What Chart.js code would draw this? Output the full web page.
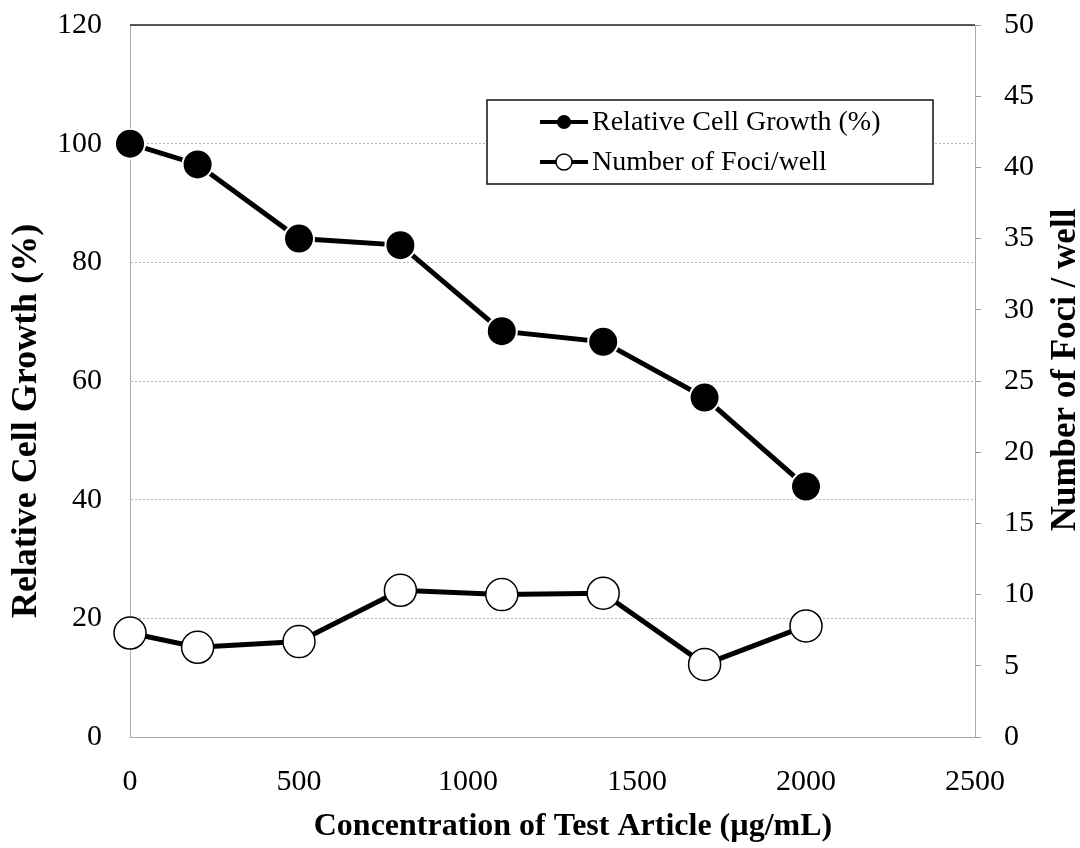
<!DOCTYPE html>
<html>
<head>
<meta charset="utf-8">
<script src="https://cdn.jsdelivr.net/npm/chart.js@4.4.1/dist/chart.umd.min.js"></script>
<style>
  html, body { margin: 0; padding: 0; background: #fff; }
</style>
</head>
<body>
<canvas id="fociChart" width="1080" height="848"></canvas>
<script>
// values
var concentrations = [0, 200, 500, 800, 1100, 1400, 1700, 2000];
var cellGrowth = [100, 96.5, 84.0, 82.9, 68.4, 66.6, 57.2, 42.2];
var fociPerWell = [7.3, 6.3, 6.7, 10.3, 10.0, 10.1, 5.1, 7.8];
var xTicks = [0, 500, 1000, 1500, 2000, 2500];
var growthTicks = [0, 20, 40, 60, 80, 100, 120];
var fociTicks = [0, 5, 10, 15, 20, 25, 30, 35, 40, 45, 50];

var serif = "'Liberation Serif', 'Times New Roman', serif";

function toPoints(ys) {
	return concentrations.map(function (c, i) { return { x: c, y: ys[i] }; });
}

function plainNumber(v) { return String(v); }

// fixed side widths so the plot box sits where the original has it
function sideWidth(w) {
	return function (s) {
		s.width = w;
		s.paddingTop = 0;
		s.paddingBottom = 0;
	};
}

// top frame line, legend box and the axis titles (placed like the original)
var extras = {
	id: 'extras',
	beforeDatasetsDraw: function (chart) {
		var ctx = chart.ctx, a = chart.chartArea;
		ctx.save();
		ctx.strokeStyle = '#222';
		ctx.lineWidth = 1.5;
		ctx.beginPath();
		ctx.moveTo(a.left, a.top);
		ctx.lineTo(a.right, a.top);
		ctx.stroke();
		ctx.restore();
	},
	afterDraw: function (chart) {
		var ctx = chart.ctx;
		ctx.save();

		// legend
		ctx.fillStyle = '#fff';
		ctx.fillRect(487, 100, 446, 84);
		ctx.strokeStyle = '#111';
		ctx.lineWidth = 1.5;
		ctx.strokeRect(487, 100, 446, 84);
		var rows = [122, 162];
		chart.data.datasets.forEach(function (ds, i) {
			var y = rows[i];
			ctx.strokeStyle = '#000';
			ctx.lineWidth = 4;
			ctx.beginPath();
			ctx.moveTo(540, y);
			ctx.lineTo(588, y);
			ctx.stroke();
			ctx.beginPath();
			ctx.arc(564, y, i === 0 ? 7 : 8, 0, Math.PI * 2);
			ctx.fillStyle = ds.pointBackgroundColor;
			ctx.fill();
			if (i === 1) {
				ctx.lineWidth = 1.5;
				ctx.stroke();
			}
			ctx.fillStyle = '#000';
			ctx.font = '28px ' + serif;
			ctx.textAlign = 'left';
			ctx.textBaseline = 'middle';
			ctx.fillText(ds.label, 592, y + 1);
		});

		ctx.fillStyle = '#000';
		ctx.textAlign = 'center';
		ctx.textBaseline = 'middle';

		// x title
		ctx.font = 'bold 32px ' + serif;
		ctx.fillText('Concentration of Test Article (µg/mL)', 573, 827);

		// left title
		ctx.save();
		ctx.translate(27, 421);
		ctx.rotate(-Math.PI / 2);
		ctx.font = 'bold 36px ' + serif;
		ctx.fillText('Relative Cell Growth (%)', 0, 0);
		ctx.restore();

		// right title, also reads bottom to top
		ctx.save();
		ctx.translate(1066, 370);
		ctx.rotate(-Math.PI / 2);
		ctx.font = 'bold 35px ' + serif;
		ctx.fillText('Number of Foci / well', 0, 0);
		ctx.restore();

		ctx.restore();
	}
};

var chart = new Chart(document.getElementById('fociChart'), {
	type: 'line',
	data: {
		datasets: [{
			label: 'Relative Cell Growth (%)',
			data: toPoints(cellGrowth),
			yAxisID: 'y',
			borderColor: '#000',
			borderWidth: 5,
			pointRadius: 15,
			pointHoverRadius: 15,
			pointBackgroundColor: '#000',
			pointBorderColor: '#fff',
			pointBorderWidth: 2,
			tension: 0,
			clip: false
		}, {
			label: 'Number of Foci/well',
			data: toPoints(fociPerWell),
			yAxisID: 'y1',
			borderColor: '#000',
			borderWidth: 5,
			pointRadius: 16,
			pointHoverRadius: 16,
			pointBackgroundColor: '#fff',
			pointBorderColor: '#000',
			pointBorderWidth: 1.5,
			tension: 0,
			clip: false
		}]
	},
	options: {
		responsive: false,
		animation: false,
		layout: { padding: { top: 25, left: 0, right: 0, bottom: 0 } },
		plugins: { legend: { display: false }, tooltip: { enabled: false } },
		scales: {
			x: {
				type: 'linear',
				position: 'bottom',
				min: xTicks[0],
				max: xTicks[xTicks.length - 1],
				ticks: { stepSize: xTicks[1] - xTicks[0], padding: 19, color: '#000', font: { family: serif, size: 30 }, callback: plainNumber },
				grid: { display: false },
				border: { display: true, color: '#aaa', width: 1 },
				afterFit: function (s) { s.height = 111; }
			},
			y: {
				position: 'left',
				min: growthTicks[0],
				max: growthTicks[growthTicks.length - 1],
				ticks: { stepSize: growthTicks[1] - growthTicks[0], padding: 28, color: '#000', font: { family: serif, size: 30 } },
				grid: { color: '#b5b5b5', lineWidth: 1, drawTicks: false },
				border: { color: '#aaa', dash: [2, 2] },
				afterFit: sideWidth(130)
			},
			y1: {
				position: 'right',
				min: fociTicks[0],
				max: fociTicks[fociTicks.length - 1],
				ticks: { stepSize: fociTicks[1] - fociTicks[0], padding: 23, color: '#000', font: { family: serif, size: 30 } },
				grid: { drawOnChartArea: false, drawTicks: true, tickLength: 6, tickColor: '#999' },
				border: { color: '#aaa' },
				afterFit: sideWidth(105)
			}
		}
	},
	plugins: [extras]
});
</script>
</body>
</html>
